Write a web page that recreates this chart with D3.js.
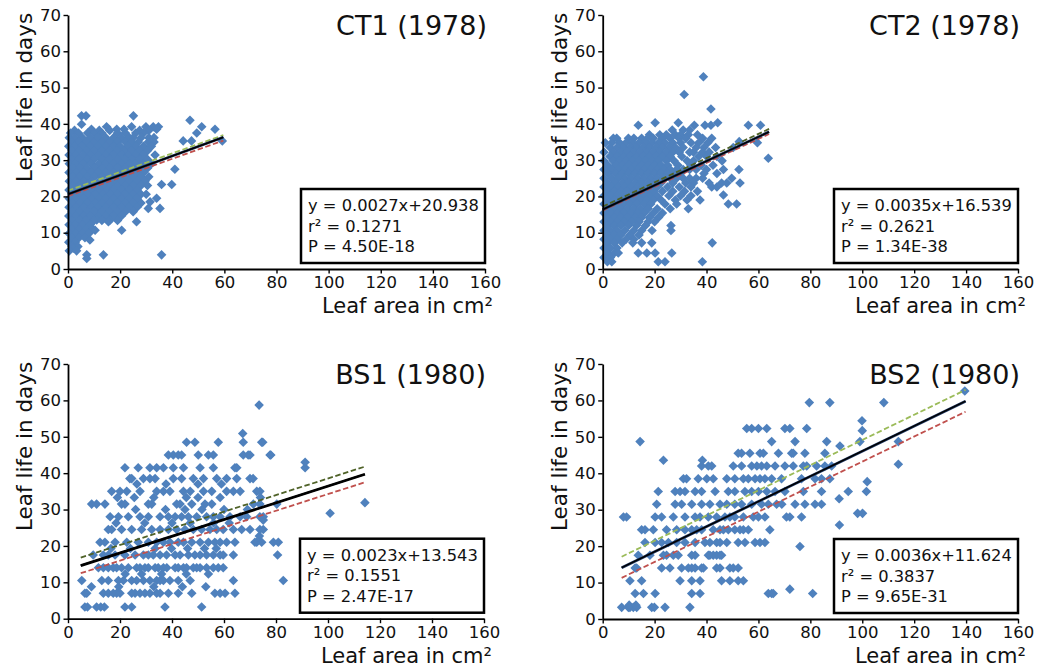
<!DOCTYPE html>
<html><head><meta charset="utf-8">
<script src="https://cdn.jsdelivr.net/npm/d3@7"></script>
<style>body{margin:0;background:#fff;} svg{display:block;font-family:"DejaVu Sans",sans-serif;}</style>
</head><body><svg id="chart" width="1052" height="669"></svg>
<script>
// ---------- data ----------
const xTickValues = [0, 20, 40, 60, 80, 100, 120, 140, 160];
const yTickValues = [0, 10, 20, 30, 40, 50, 60, 70];
const panelTitles = ["CT1 (1978)", "CT2 (1978)", "BS1 (1980)", "BS2 (1980)"];
const equations = ["y = 0.0027x+20.938", "y = 0.0035x+16.539", "y = 0.0023x+13.543", "y = 0.0036x+11.624"];
const rSquared = ["0.1271", "0.2621", "0.1551", "0.3837"];
const pValues = ["4.50E-18", "1.34E-38", "2.47E-17", "9.65E-31"];
const xLabel = "Leaf area in cm²";
const yLabel = "Leaf life in days";

// each row: [leaf life (y), leaf area x values...]
const ct1Rows = [
  [42.2, 5.2, 6.9, 25.1], [41, 46.8], [39.9, 5.2],
  [39.2, 14.8, 24.4, 29.9, 32.7, 34.7, 51.3], [38.5, 9, 18.7, 21.5, 34, 56.4],
  [38.2, 2.5, 12, 16, 27.5, 31],
  [37.5, 1, 4, 7.5, 10, 13, 19, 22, 26, 29, 49.4],
  [36.2, 0.5, 2.5, 5.5, 8.5, 11.5, 14.5, 17.5, 20.5, 23.5, 25, 28, 31, 33],
  [35.3, 44.2, 47.4, 59.2],
  [35, 1.5, 4, 7, 10, 13, 16, 19, 22, 24.5, 27, 30.8, 33],
  [33.8, 0.3, 2.8, 5.5, 8.5, 11.5, 14.5, 17.5, 20, 23, 26, 29, 32],
  [32.6, 1.5, 4.2, 7, 10, 13, 16, 19, 21.5, 24.5, 27.5, 30.5],
  [31.4, 0.4, 3, 5.8, 8.5, 11.5, 14.5, 17.5, 20.5, 23, 26, 29, 33.4],
  [30.2, 1.6, 4.3, 7.2, 10, 13, 16, 19, 22, 24.5, 27.5, 30.5],
  [29, 0.5, 3, 5.8, 8.8, 11.8, 14.5, 17.5, 20.5, 23.5, 26, 29, 32],
  [27.8, 1.8, 4.5, 7.2, 10.2, 13, 16, 19, 22, 25, 27.5, 30.5],
  [27.5, 41],
  [26.6, 0.4, 3.2, 6, 8.8, 11.5, 14.5, 17.5, 20.5, 23.5, 26.5, 29],
  [25.4, 1.6, 4.5, 7.5, 10.2, 13, 16, 19, 22, 25, 28, 31],
  [24.2, 0.5, 3, 6, 9, 12, 15, 18, 20.5, 23.5, 26.5, 29.5],
  [23.3, 35.9, 39.8],
  [23, 1.7, 4.5, 7.5, 10.5, 13.5, 16.5, 19, 22, 25, 28, 30.5],
  [21.8, 0.4, 3.2, 6, 9, 12, 15, 17.5, 20.5, 23.5, 26.5],
  [20.6, 1.5, 4.5, 7.5, 10.5, 13.5, 16, 19, 22, 25, 28, 30],
  [19.5, 34],
  [19.4, 0.5, 3, 6, 9, 12, 14.5, 17.5, 20.5, 23.5, 26.5],
  [18.5, 31.5],
  [18.2, 1.6, 4.5, 7.5, 10.5, 13, 16, 19, 22, 25, 28],
  [17, 0.4, 3, 6, 9, 11.5, 14.5, 17.5, 20.5, 23.5, 26.5],
  [16.7, 30.8, 35.3],
  [15.8, 1.5, 4.5, 7.5, 10, 13, 16, 19, 22, 25],
  [14.6, 0.3, 3, 6, 8.5, 11.5, 14.5, 17.5, 20.5],
  [13.5, 11],
  [13.4, 1.6, 4.5, 7, 10, 13, 16, 19],
  [13, 15.5, 26.3],
  [12.2, 0.4, 3, 5.5, 8.5],
  [11, 1.5, 4.2, 7, 9.5],
  [10.7, 10.4, 20.6],
  [9.8, 0.4, 3, 5.5, 8],
  [8.6, 1.5, 4.2, 6.5],
  [8, 8.4],
  [7.4, 0.3, 2.8],
  [6.2, 1.5, 3.8],
  [5.7, 2],
  [5, 0.5, 3.3],
  [3.9, 7.2, 13.6, 35.9],
  [2.9, 7.2]
];

const ct2Rows = [
  [53, 38.8], [48.1, 31.4], [44.1, 41.7], [40.3, 20.2, 29.1, 44.3],
  [39.6, 13.7, 35.3, 39.4, 41.7, 56.1, 60.8],
  [38.3, 26.8, 31, 33.5],
  [37, 18, 22, 24.5, 28, 30, 33, 36.5],
  [36, 4.1, 5.4, 9.9, 12, 15, 17.3, 19.5, 23, 26, 29.5, 32, 38.5, 42],
  [35.1, 52.6],
  [34.8, 1, 3.5, 6.5, 9, 11.5, 14, 16.5, 19, 21.5, 24, 27, 30, 34, 37, 40.5, 59.6],
  [33.5, 2.8, 5.5, 8, 10.5, 13, 15.5, 18, 20.5, 23, 25.5, 28, 31, 36, 39, 43.5, 50.3],
  [32.2, 0.5, 4, 7, 9.5, 12, 14.5, 17, 19.5, 22, 24.5, 27, 29.5, 33.5, 35, 38.5, 41],
  [31, 2.8, 5.5, 8, 10.5, 13, 15.5, 18, 20.5, 23, 26, 30.5, 37, 40, 44],
  [30.5, 63.8],
  [29.8, 0.5, 4, 6.5, 9, 11.5, 14, 16.5, 19, 21.5, 24.5, 27.5, 32.5, 35, 46],
  [28.6, 2, 5, 7.5, 10, 12.5, 15, 17.5, 20, 22.5, 25, 29, 34, 38, 42.5],
  [27.4, 0.5, 3.5, 6, 8.5, 11, 13.5, 16, 18.5, 21, 23.5, 26, 28.5, 31, 33.5, 36, 40, 46.5, 52.5],
  [26.3, 2, 5, 7.5, 10, 12.5, 15, 17.5, 20, 22.5, 25, 27.5, 30, 39, 44],
  [25, 0.5, 3.5, 6, 8.5, 11, 13.5, 16, 18.5, 21, 23.5, 26, 28.5, 31, 33.5, 36, 38.5, 49.7],
  [23.7, 2, 5, 7.5, 10, 12.5, 15, 17.5, 20, 22.5, 27, 32, 35, 41, 45.8, 47.8, 52.9],
  [22.6, 0.5, 3.5, 6, 8.5, 11, 13.5, 16, 18.5, 21, 25, 29.5, 34, 42, 44],
  [21.4, 2, 4.5, 7, 9.5, 12, 14.5, 17, 19.5, 23, 27, 31.5, 36.5],
  [20.4, 46.5],
  [20.2, 0.5, 3, 5.5, 8, 10.5, 13, 15.5, 18, 21, 25.5, 30, 34],
  [19, 1.8, 4.5, 7, 9.5, 12, 14.5, 17, 19.5, 22.5, 28, 32.5, 37.5],
  [17.9, 0.5, 3, 5.5, 8, 10.5, 13, 16, 18.5, 24, 28.5, 48.4, 51.6],
  [16.6, 1.8, 4.5, 7, 9.5, 12, 14.5, 17.5, 21, 26, 33],
  [15.4, 0.5, 3, 5.5, 8, 11, 13.5, 16, 19.5, 23],
  [14.2, 1.8, 4.5, 7, 9.5, 12.5, 15, 18, 21.5],
  [13, 0.5, 3, 5.5, 8.5, 11, 14, 17.5, 20],
  [12, 1.8, 4.5, 7, 10, 13, 16.5, 26.3],
  [10.6, 0.5, 3, 5.5, 8.5, 12, 15, 19, 26.3],
  [9.4, 1.8, 4.5, 7, 10.5, 14],
  [8.2, 0.5, 3, 5.5, 9, 12],
  [7.2, 1.8, 4.5, 7.5, 11.6, 15, 18.9, 42.2],
  [5.8, 0.5, 3, 5.5],
  [4.4, 1.8, 4.5, 6, 13.7, 17, 20.2, 26.6],
  [3.2, 0.5, 3],
  [2, 1.8, 3.5, 21.4, 24, 38.4]
];

const bs1Rows = [
  [3.2, 6.5, 7.5, 11, 12.6, 14, 21.9, 24.5, 37.3, 51.4],
  [7, 6.5, 7.2, 13.6, 15.5, 17.4, 18.7, 20, 24.5, 25.8, 27.7, 29.6, 31.5, 34.1, 35.4, 38.6, 42.4, 47.6, 56.5, 58.5, 60.4, 64.2],
  [8.8, 9, 19.5, 33, 44, 53],
  [10.5, 5.3, 13, 15.5, 19.4, 21.3, 24.5, 26.4, 29, 31.5, 34.1, 35.4, 36.7, 39.2, 42.4, 47, 63.6, 82.8],
  [12.3, 22, 28.3, 36, 45.5, 54],
  [14, 11.7, 13.6, 15.5, 17.4, 18.7, 20.6, 23.2, 26.4, 27.7, 29.6, 30.9, 33.5, 34.7, 36.7, 38, 41.2, 42.4, 44.4, 45.6, 48.2, 49.5, 50.8, 53.3, 55.9, 57.8, 59.7],
  [17.5, 9.7, 13.6, 15.5, 18.1, 21.9, 25.8, 29, 30.9, 32.8, 35.4, 37.9, 41.2, 43.1, 46.3, 48.8, 50.8, 53.3, 55.9, 58.5, 59.7, 63.6, 80.6],
  [19.3, 16.5, 24, 33.5, 39.8, 46, 52.5, 57],
  [21, 12.3, 14.2, 18.1, 22.6, 27, 30.9, 34.1, 36.7, 39.2, 42.4, 44.4, 47.6, 50.8, 54, 56.5, 58.5, 61, 64.2, 71.9, 72.6, 74.5, 79, 80.9],
  [22.7, 73.6],
  [24.5, 15.5, 16.8, 20.6, 24.5, 28.3, 32.2, 35.4, 38.6, 41.8, 45, 48.2, 51.4, 54.6, 57.2, 59.7, 63.6, 66.8, 70, 73.8, 75.1],
  [26.3, 18.5, 29.5, 40, 47, 56, 62],
  [27.1, 75.1],
  [28, 16.2, 19.4, 23.2, 27.7, 30.9, 35.4, 38.6, 41.2, 43.7, 46.3, 49.5, 53.3, 55.9, 58.5, 62.3, 66.2, 68.7, 73.8, 75.1],
  [29, 100.8],
  [30, 26, 37.5, 45, 51.5, 60, 69],
  [31.5, 9.1, 11, 14.2, 20.6, 21.9, 30.9, 32.2, 41.8, 43.1, 47.6, 52.7, 55.3, 71.3, 73.8, 80.3],
  [31.9, 114.2],
  [33.3, 19, 25.5, 33, 45.5, 50, 58.5, 74],
  [35, 16.8, 20, 22.6, 27.7, 34.1, 36.7, 39.2, 44.4, 47, 52.1, 55.3, 61, 63.6, 66.2, 72.6, 73.8],
  [37, 26.5, 37.7, 50, 59],
  [38.5, 23.8, 24.5, 29, 31.5, 33.5, 40.5, 43.7, 48.2, 52.1, 57.2, 61, 64.9, 70, 71.2],
  [41.5, 21.9, 27, 31.5, 34.1, 36.7, 40.5, 44.4, 50.8, 55.9, 64.2, 64.9, 91.2],
  [43, 91.2],
  [45, 38.6, 40.5, 42.4, 43.7, 50.1, 54, 55.9, 67.4, 69.3, 70, 77.7, 78],
  [48.5, 45.6, 48.8, 57.8, 67.4, 74.5, 74.9],
  [50.9, 67.2],
  [58.7, 73.5]
];

const bs2Rows = [
  [3.2, 7.3, 9.9, 10.5, 11.8, 13.1, 18.9, 19.9, 24, 33.6],
  [3.8, 10.2, 12.8],
  [7, 12.5, 15.7, 20.2, 34.3, 37.5, 63.8, 65.1, 65.7, 80.9],
  [8.2, 72.1],
  [10.5, 10.5, 15, 29.8, 34.3, 37.5, 45.8, 49, 52.2, 54.2],
  [14, 12.5, 13.1, 22.7, 25.9, 30.4, 33, 34.3, 35.6, 38.1, 38.8, 43.9, 45.2, 49, 50.3, 52.2],
  [17.5, 13.7, 18.2, 23.4, 24.6, 27.2, 29.1, 34.3, 35.6, 40.7, 41.3, 42.6, 43.9, 45.2, 45.8],
  [19.9, 76],
  [21, 16.3, 20.2, 22.7, 25.3, 28.5, 31.7, 35.6, 39.4, 41.3, 43.9, 45.2, 47.8, 52.2, 54.8, 58.7, 60.6, 62.5],
  [24.5, 15, 16.3, 19.5, 24.6, 28.5, 31.7, 34.3, 36.2, 38.1, 42.6, 45.2, 46.5, 48.4, 50.9, 52.9, 54.2, 56.1, 64.4],
  [25.8, 91.2],
  [28, 8, 9.2, 20.2, 22.7, 27.2, 31.7, 35.6, 37.5, 40.7, 43.9, 47.1, 49, 50.9, 54.2, 58, 60, 62.5, 70.8, 72.1, 76.6],
  [29, 98.2, 100.1],
  [31.5, 20.8, 27.9, 30.4, 34.3, 38.1, 41.3, 45.2, 47.8, 50.9, 53.5, 57.4, 61.2, 63.8, 67, 69, 74.1, 77.9, 81.8, 84.3],
  [33, 91.1],
  [35, 21.4, 27.9, 29.8, 31.7, 35.6, 38.1, 43.3, 48.4, 50.9, 54.8, 57.4, 60, 63.2, 66.4, 70.2, 77.3, 84.3, 94.6, 101.6],
  [37.7, 101.9],
  [38.5, 31.1, 32.3, 36.8, 40.1, 42.6, 47.8, 50.9, 54.2, 56.1, 58.7, 60.6, 62.5, 65.1, 68.9, 76.6, 81.8, 84.3, 87.5],
  [42, 38.1, 40.7, 42, 50.3, 53.5, 57.4, 59.4, 61.2, 63.2, 66.4, 70.2, 73.4, 77.3, 78.6, 82.4, 85.6, 88.2],
  [42.5, 113.9],
  [43.6, 23.4, 38.4],
  [45.5, 52.2, 53.5, 56.7, 60.6, 61.9, 67.7, 72.8, 73.4, 77.9, 85.6],
  [47.5, 91.4],
  [48.7, 14.4, 65.1, 74.1, 86.3, 99.1, 113.9],
  [51.7, 100],
  [52.3, 55.5, 57.4, 60, 63.2, 70.2, 72.1, 78.6],
  [54.4, 99.9],
  [59.4, 79.6, 87.5, 108.3],
  [62.6, 139.5]
];

// fitted lines: [x start, y start, x end, y end]
const fitSolid = [[0, 20.6, 59.6, 36.3], [0, 16.4, 64.1, 37.8], [4.9, 14.6, 114.2, 39.7], [7.3, 14.1, 139.8, 59.8]];
const fitUpper = [[0, 21.6, 59.6, 36.9], [0, 17.2, 64.1, 38.6], [4.9, 16.8, 114.2, 41.8], [7.3, 17.1, 139.8, 62.9]];
const fitLower = [[0, 20.1, 59.6, 35.4], [0, 16.1, 64.1, 37.2], [4.9, 12.5, 114.2, 37.5], [7.3, 11.3, 139.8, 56.9]];

const panelRows = [ct1Rows, ct2Rows, bs1Rows, bs2Rows];

// ---------- layout / style ----------
const layout = [
  {left: 68, top: 15, width: 417, height: 254},
  {left: 602.7, top: 15, width: 415.3, height: 254},
  {left: 68, top: 364, width: 416, height: 254.7},
  {left: 602.7, top: 364, width: 415.3, height: 255}
];
const upperColors = ["#9bbb59", "#4f6228", "#4f6228", "#9bbb59"];
const solidUnder = ["#1f3864", "#1f3864", "#000000", "#1f3864"];
const markerColor = "#4f81bd";
const lowerColor = "#c0504d";

const svg = d3.select("#chart");
svg.append("rect").attr("width", 1052).attr("height", 669).attr("fill", "#fff");

layout.forEach((L, i) => {
  const g = svg.append("g").attr("transform", `translate(${L.left},${L.top})`);
  const x = d3.scaleLinear().domain([0, 160]).range([0, L.width]);
  const y = d3.scaleLinear().domain([0, 70]).range([L.height, 0]);

  const pts = [];
  panelRows[i].forEach(r => { for (let k = 1; k < r.length; k++) pts.push([r[k], r[0]]); });

  g.append("g").selectAll("path").data(pts).join("path")
    .attr("d", d3.symbol(d3.symbolSquare, 46))
    .attr("transform", d => `translate(${x(d[0])},${y(d[1])}) rotate(45)`)
    .attr("fill", markerColor);

  const line = (f, color, width, dash) => g.append("line")
    .attr("x1", x(f[0])).attr("y1", y(f[1])).attr("x2", x(f[2])).attr("y2", y(f[3]))
    .attr("stroke", color).attr("stroke-width", width)
    .attr("stroke-dasharray", dash || null);
  line(fitUpper[i], upperColors[i], 1.8, "5.5,2.6");
  line(fitLower[i], lowerColor, 1.8, "5.5,2.6");
  line(fitSolid[i], solidUnder[i], 2.8);
  line(fitSolid[i], "#000", 1.5);

  // axes
  const xa = g.append("g").attr("transform", `translate(0,${L.height})`)
    .call(d3.axisBottom(x).tickValues(xTickValues).tickSize(4.5).tickSizeOuter(0).tickPadding(3));
  const ya = g.append("g")
    .call(d3.axisLeft(y).tickValues(yTickValues).tickSize(4.5).tickSizeOuter(0).tickPadding(2.5));
  [xa, ya].forEach(a => {
    a.select(".domain").attr("stroke", "#000").attr("stroke-width", 1.8);
    a.selectAll(".tick line").attr("stroke", "#000").attr("stroke-width", 1.4);
    a.selectAll(".tick text").attr("fill", "#111").style("font-size", "16.5px").style("font-family", "DejaVu Sans");
  });

  // labels
  g.append("text").attr("x", L.width - 163).attr("y", L.height + 44)
    .style("font-size", "21px").attr("fill", "#111").text(xLabel);
  g.append("text").attr("transform", `translate(-36,167) rotate(-90)`)
    .style("font-size", "21.5px").attr("fill", "#111").text(yLabel);
  g.append("text").attr("x", L.width + 2).attr("y", 20).attr("text-anchor", "end")
    .style("font-size", "27px").attr("fill", "#111").text(panelTitles[i]);

  // stats box
  const bx = L.width - 184, by = L.height - 80;
  g.append("rect").attr("x", bx).attr("y", by).attr("width", 184).attr("height", 74)
    .attr("fill", "#fff").attr("stroke", "#000").attr("stroke-width", 2.5);
  const lines = [equations[i], "r² = " + rSquared[i], "P = " + pValues[i]];
  lines.forEach((t, k) => g.append("text").attr("x", bx + 7).attr("y", by + 22 + k * 20.5)
    .style("font-size", "16.3px").attr("fill", "#111").text(t));
});
</script></body></html>
